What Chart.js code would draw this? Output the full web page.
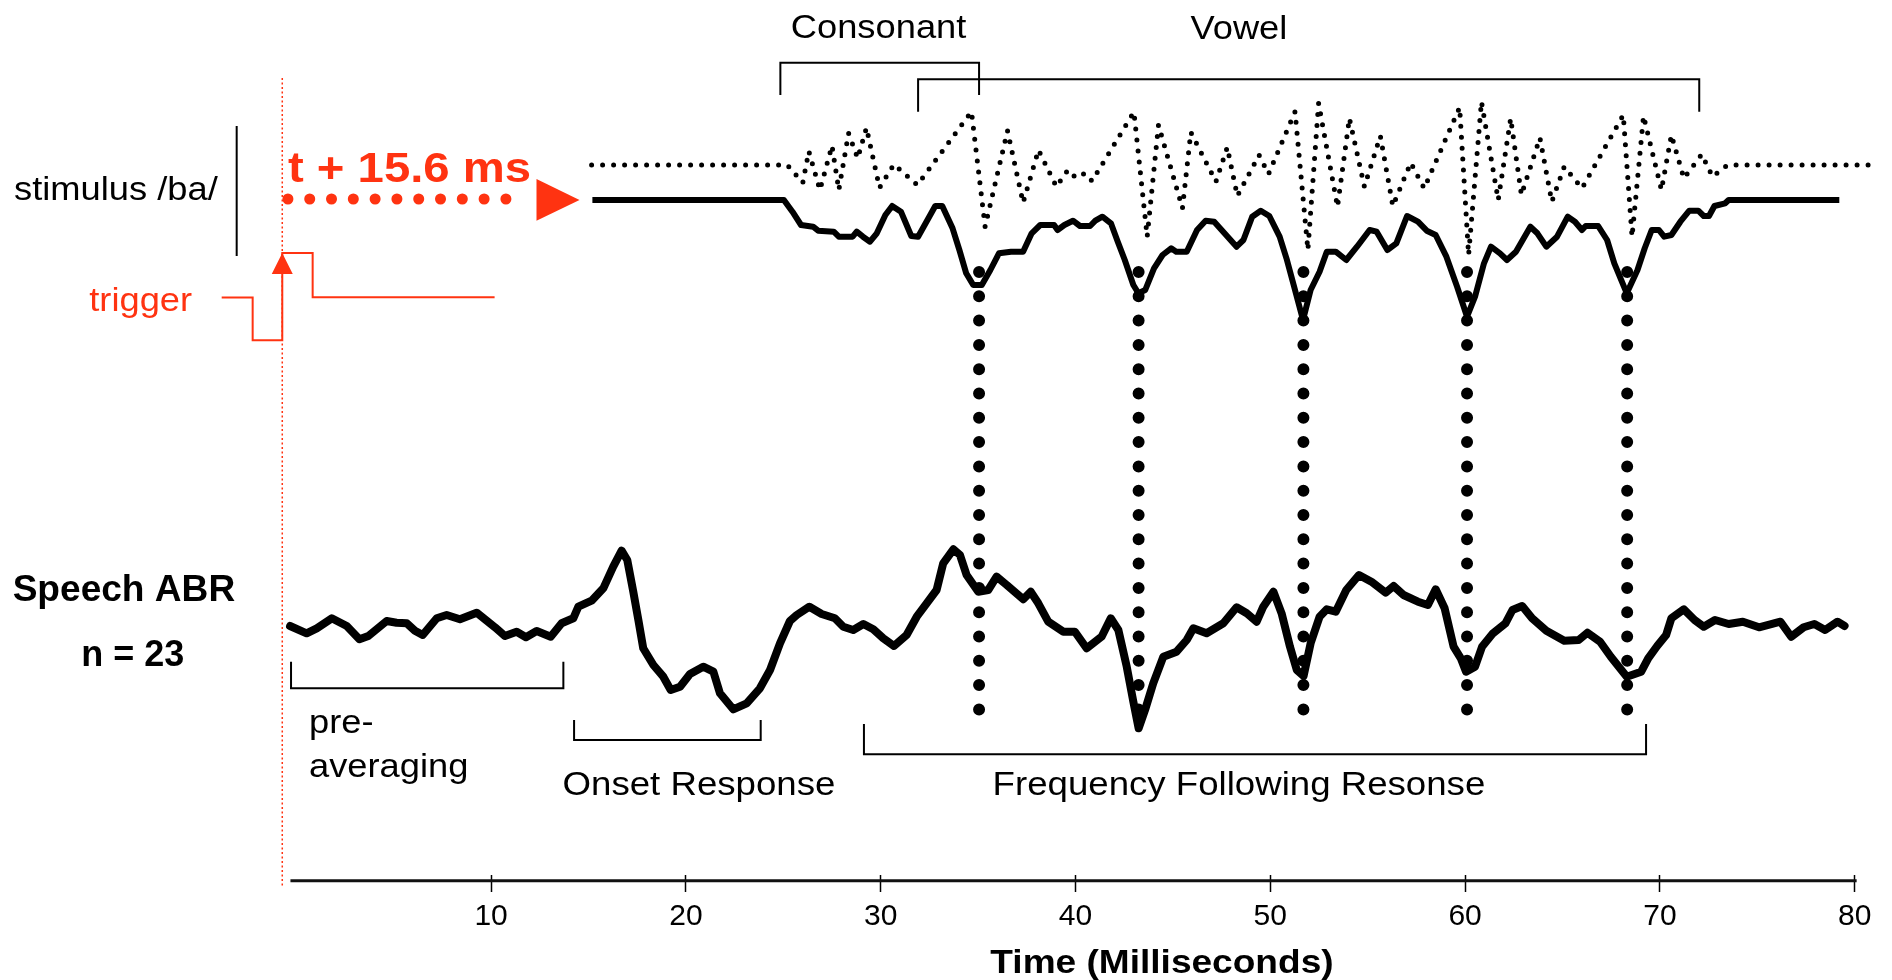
<!DOCTYPE html>
<html>
<head>
<meta charset="utf-8">
<title>Speech ABR to /ba/</title>
<script src="https://cdn.jsdelivr.net/npm/chart.js@4.4.1/dist/chart.umd.min.js"></script>
<style>
  html, body { margin: 0; padding: 0; background: #fff; }
  #wrap { width: 1892px; height: 980px; }
</style>
</head>
<body>
<div id="wrap"><canvas id="abrChart"></canvas></div>
<script>
// time ticks (ms)
const TICKS = [10, 20, 30, 40, 50, 60, 70, 80];

// grand average speech ABR, n = 23 (time in ms, amplitude in arbitrary units)
const ABR_MS = [-0.32, 0.53, 1.05, 1.82, 2.59, 3.24, 3.70, 4.64, 5.15, 5.67, 6.09, 6.49, 7.21, 7.72, 8.40, 9.26, 9.77, 10.2, 10.71, 11.31,
  11.79, 12.34, 13.06, 13.62, 14.22, 14.48, 15.16, 15.76, 16.27, 16.70, 16.99, 17.3, 17.56, 17.81, 18.33, 18.84, 19.22, 19.7, 20.21, 20.89,
  21.41, 21.75, 22.43, 23.12, 23.80, 24.32, 24.83, 25.34, 25.69, 26.34, 26.97, 27.65, 28.08, 28.59, 29.11, 29.62, 30.13, 30.68, 31.33, 31.85,
  32.36, 32.87, 33.21, 33.73, 34.07, 34.41, 35.01, 35.52, 35.95, 36.47, 37.32, 37.70, 38.09, 38.60, 39.37, 39.97, 40.57, 41.34, 41.81, 42.2,
  42.63, 42.97, 43.24, 43.57, 43.99, 44.51, 45.19, 45.71, 46.05, 46.73, 47.59, 48.27, 48.79, 49.3, 49.64, 50.16, 50.58, 51.01, 51.36, 51.71,
  52.07, 52.53, 52.9, 53.36, 53.9, 54.55, 55.19, 55.92, 56.33, 56.84, 57.58, 58.09, 58.49, 58.95, 59.41, 59.78, 60.05, 60.51, 60.87, 61.43,
  62.07, 62.43, 62.93, 63.44, 64.17, 65.09, 65.83, 66.28, 66.93, 67.48, 68.3, 69.04, 69.40, 69.86, 70.32, 70.59, 71.23, 71.78, 72.25, 72.83,
  73.53, 74.26, 75.09, 76.19, 76.74, 77.38, 77.93, 78.48, 79.12, 79.48];
const ABR_AMP = [-0.1, -0.83, -0.33, 0.67, -0.1, -1.43, -1.1, 0.4, 0.23, 0.17, -0.57, -1.0, 0.67, 1.0, 0.57, 1.23, 0.43, -0.23, -1.1, -0.67,
  -1.23, -0.6, -1.17, 0.17, 0.67, 1.83, 2.43, 3.67, 5.83, 7.43, 6.5, 3.33, 0.5, -2.33, -4.0, -5.17, -6.5, -6.17, -4.9, -4.17,
  -4.67, -6.83, -8.43, -7.83, -6.33, -4.5, -1.83, 0.4, 1.0, 1.83, 1.1, 0.67, -0.17, -0.5, 0.1, -0.43, -1.33, -2.1, -1.0, 0.83,
  2.17, 3.5, 6.17, 7.57, 7.0, 5.0, 3.33, 3.5, 4.83, 4.0, 2.57, 3.33, 2.17, 0.33, -0.67, -0.67, -2.33, -1.17, 0.67, -0.5,
  -4.17, -7.67, -10.33, -8.5, -5.83, -3.17, -2.67, -1.5, -0.33, -0.83, 0.17, 1.77, 1.17, 0.33, 1.83, 3.33, 1.17, -2.17, -4.5, -5.1,
  -1.83, 0.83, 1.57, 1.33, 3.5, 5.0, 4.33, 3.23, 3.9, 3.0, 2.33, 2.0, 3.57, 1.67, -2.17, -3.33, -4.67, -4.17, -2.17, -0.83,
  0.17, 1.5, 1.9, 0.67, -0.57, -1.57, -1.5, -0.77, -1.67, -3.17, -5.17, -4.67, -3.33, -2.1, -1.0, 0.67, 1.57, 0.5, -0.17, 0.5,
  0.1, 0.33, -0.23, 0.33, -1.17, -0.23, 0.1, -0.5, 0.33, -0.1];

// stimulus /ba/ envelope-like trace (solid), shifted by the 15.6 ms delay
const STIM_MS = [15.2, 25.03, 25.47, 25.91, 26.53, 26.79, 27.59, 27.85, 28.56, 28.77, 29.09, 29.45, 29.8, 30.24, 30.59, 31.04, 31.57, 31.92,
  32.45, 32.8, 33.16, 33.69, 34.04, 34.39, 34.75, 35.19, 35.63, 36.07, 36.69, 37.31, 37.75, 38.19, 38.9, 39.08, 39.43, 39.87, 40.23, 40.75,
  41.02, 41.38, 41.82, 42.17, 42.53, 42.97, 43.23, 43.58, 44.03, 44.47, 44.91, 45.17, 45.71, 46.24, 46.68, 47.12, 47.65, 48.27, 48.62, 49.07,
  49.51, 49.95, 50.48, 50.83, 51.2, 51.68, 52.07, 52.53, 52.9, 53.36, 53.9, 54.45, 55.1, 55.46, 56.01, 56.47, 57.02, 57.58, 58.03, 58.49,
  59.04, 59.59, 60.1, 60.51, 60.97, 61.33, 61.79, 62.15, 62.61, 63.35, 63.71, 64.17, 64.72, 65.27, 65.64, 66.0, 66.19, 66.83, 67.29, 67.66,
  68.3, 68.85, 69.22, 69.58, 69.95, 70.22, 70.59, 71.05, 71.51, 71.97, 72.25, 72.52, 72.8, 73.35, 73.53, 79.21];
const STIM_AMP = [0, 0, -1.17, -2.5, -2.67, -3.07, -3.17, -3.67, -3.67, -3.17, -3.67, -4.17, -3.33, -1.5, -0.6, -1.17, -3.6, -3.67,
  -1.83, -0.6, -0.6, -2.83, -5.0, -7.33, -8.5, -8.5, -7.0, -5.33, -5.17, -5.17, -3.33, -2.5, -2.5, -3.0, -2.5, -2.07, -2.6, -2.6,
  -2.07, -1.67, -2.33, -4.17, -6.0, -8.5, -9.33, -9.0, -6.83, -5.5, -4.83, -5.17, -5.17, -3.0, -2.07, -2.17, -3.33, -4.67, -4.0, -1.67,
  -1.07, -1.6, -3.67, -5.83, -8.5, -12.0, -9.0, -7.17, -5.17, -5.17, -6.0, -4.67, -3.0, -3.17, -5.0, -4.33, -1.6, -2.17, -3.07, -3.5,
  -5.67, -8.67, -11.67, -9.67, -6.33, -4.67, -5.33, -6.0, -5.17, -2.67, -3.33, -4.67, -3.67, -1.67, -2.17, -3.0, -2.6, -2.6, -4.0, -6.33,
  -9.33, -7.0, -4.83, -3.0, -3.0, -3.67, -3.5, -2.17, -1.07, -1.07, -1.6, -1.6, -0.6, -0.33, 0, 0];

// stimulus /ba/ waveform (dotted)
const WAVE_MS = [15.16, 25.2, 26.0, 26.31, 26.88, 27.5, 27.85, 28.35, 28.82, 29.27, 29.94, 30.68, 31.88, 34.66, 35.36, 36.51, 37.31, 38.1,
  39.02, 39.61, 40.02, 40.49, 40.85, 43.0, 43.68, 44.26, 45.49, 45.92, 47.21, 47.79, 48.31, 49.42, 49.91, 51.27, 51.93, 52.48, 53.45, 54.06,
  54.83, 55.65, 56.29, 57.21, 57.9, 59.72, 60.18, 60.84, 61.7, 62.34, 62.89, 63.84, 64.45, 65.09, 66.0, 68.12, 68.57, 69.16, 70.08, 70.59,
  71.23, 72.15, 72.7, 73.47, 81.15];
const WAVE_AMP = [0, 0, -1.77, 1.37, -2.5, 1.93, -2.5, 3.17, 0.67, 3.73, -2.27, 0.07, -2.0, 5.33, -6.17, 3.43, -3.77, 1.5,
  -2.17, -0.5, -1.27, -0.83, -1.6, 5.3, -7.17, 4.0, -4.33, 3.27, -1.67, 1.77, -3.1, 1.0, -0.9, 5.33, -8.5, 6.17, -4.17, 4.67,
  -2.17, 2.9, -4.1, 0.23, -2.33, 5.77, -9.0, 6.33, -3.5, 4.67, -3.0, 2.73, -3.67, -0.17, -2.33, 5.0, -7.17, 4.9, -2.5, 3.0,
  -1.33, 1.07, -1.17, 0, 0];

// latencies linking stimulus troughs to response troughs (ms)
const PEAK_LATENCY_MS = [35.05, 43.24, 51.7, 60.1, 68.32];

// time windows (ms)
const CONSONANT_MS = [24.85, 35.05];
const VOWEL_MS = [31.92, 72.02];
const PREAVG_MS = [-0.27, 13.71];
const ONSET_MS = [14.26, 23.84];
const FFR_MS = [29.14, 69.29];

// trigger pulse edges (ms) and stimulus delay arrow (ms)
const TRIGGER_EDGES_MS = [-3.83, -2.24, -0.72, 0.84, 10.18];
const DELAY_ARROW_MS = [-0.43, 11.88];
const AXIS_MS = [-0.3, 80.1];

const RED = '#ff3311';
const ABR_BASE = 0, STIM_BASE = 42.5, WAVE_BASE = 46.0;

const toPoints = (xs, ys, base) => xs.map((t, i) => ({ x: t, y: ys[i] + base }));
const lineSet = (data, extra) => Object.assign({ data: data, borderColor: '#000', borderWidth: 2, pointRadius: 0, clip: false }, extra);
const bracket = (span, top, bottom) => lineSet([
  { x: span[0], y: bottom }, { x: span[0], y: top }, { x: span[1], y: top }, { x: span[1], y: bottom }]);

const datasets = [
  lineSet(toPoints(ABR_MS, ABR_AMP, ABR_BASE), { borderWidth: 8, borderJoinStyle: 'round', borderCapStyle: 'round' }),
  lineSet(toPoints(STIM_MS, STIM_AMP, STIM_BASE), { borderWidth: 6, borderJoinStyle: 'round' }),
  lineSet(toPoints(WAVE_MS, WAVE_AMP, WAVE_BASE), { borderWidth: 5, borderDash: [0, 11], borderCapStyle: 'round', borderJoinStyle: 'round' })
];
PEAK_LATENCY_MS.forEach(t => {
  datasets.push(lineSet([{ x: t, y: 35.3 }, { x: t, y: -8.6 }], { borderWidth: 12, borderDash: [0, 24.3], borderCapStyle: 'round' }));
});
datasets.push(
  // consonant / vowel brackets
  bracket(CONSONANT_MS, 56.23, 53.0),
  bracket(VOWEL_MS, 54.57, 51.33),
  // response window brackets (open upwards)
  bracket(PREAVG_MS, -6.33, -3.67),
  bracket(ONSET_MS, -11.5, -9.5),
  bracket(FFR_MS, -12.93, -9.9),
  // stimulus bar
  lineSet([{ x: -3.06, y: 49.9 }, { x: -3.06, y: 36.9 }]),
  // time axis line
  lineSet([{ x: AXIS_MS[0], y: -25.57 }, { x: AXIS_MS[1], y: -25.57 }], { borderWidth: 3, borderColor: '#111' }),
  // trigger pulse
  lineSet([
    { x: TRIGGER_EDGES_MS[0], y: 32.75 }, { x: TRIGGER_EDGES_MS[1], y: 32.75 }, { x: TRIGGER_EDGES_MS[1], y: 28.47 },
    { x: TRIGGER_EDGES_MS[2], y: 28.47 }, { x: TRIGGER_EDGES_MS[2], y: 37.2 }, { x: TRIGGER_EDGES_MS[3], y: 37.2 },
    { x: TRIGGER_EDGES_MS[3], y: 32.77 }, { x: TRIGGER_EDGES_MS[4], y: 32.77 }], { borderColor: RED, borderWidth: 2 }),
  // trigger time marker
  lineSet([{ x: TRIGGER_EDGES_MS[2], y: 54.7 }, { x: TRIGGER_EDGES_MS[2], y: -26.3 }], { borderColor: RED, borderWidth: 1.5, borderDash: [2, 2.5] }),
  // delay arrow shaft
  lineSet([{ x: DELAY_ARROW_MS[0], y: 42.6 }, { x: DELAY_ARROW_MS[1], y: 42.6 }], { borderColor: RED, borderWidth: 11, borderDash: [0, 21.8], borderCapStyle: 'round' })
);

function drawText(ctx, text, px, py, font, color, align, sx) {
  ctx.save();
  ctx.font = font;
  ctx.fillStyle = color;
  ctx.textAlign = align;
  ctx.textBaseline = 'alphabetic';
  ctx.translate(px, py);
  ctx.scale(sx, 1);
  ctx.fillText(text, 0, 0);
  ctx.restore();
}

function fillTri(ctx, pts) {
  ctx.beginPath();
  ctx.moveTo(pts[0][0], pts[0][1]);
  ctx.lineTo(pts[1][0], pts[1][1]);
  ctx.lineTo(pts[2][0], pts[2][1]);
  ctx.closePath();
  ctx.fill();
}

// text labels and arrowheads
const annotations = {
  id: 'annotations',
  afterDatasetsDraw(chart) {
    const ctx = chart.ctx;
    const px = v => chart.scales.x.getPixelForValue(v);
    const py = v => chart.scales.y.getPixelForValue(v);
    const reg = '33px "Liberation Sans", Arial, sans-serif';
    const bold = sz => 'bold ' + sz + 'px "Liberation Sans", Arial, sans-serif';

    ctx.save();
    ctx.fillStyle = RED;
    fillTri(ctx, [[px(12.33), py(44.6)], [px(12.33), py(40.43)], [px(14.54), py(42.5)]]);
    const tx = px(TRIGGER_EDGES_MS[2]);
    fillTri(ctx, [[tx - 10.5, py(35.1)], [tx + 10.5, py(35.1)], [tx, py(37.2)]]);
    ctx.restore();

    drawText(ctx, 'Consonant', px(29.89), py(58.75), reg, '#000', 'center', 1.1);
    drawText(ctx, 'Vowel', px(48.39), py(58.57), reg, '#000', 'center', 1.1);
    drawText(ctx, 'stimulus /ba/', px(-14.49), py(42.47), reg, '#000', 'left', 1.1);
    drawText(ctx, 'trigger', px(-10.63), py(31.37), reg, RED, 'left', 1.1);
    drawText(ctx, 't + 15.6 ms', px(-0.43), py(44.33), bold(43), RED, 'left', 1.1);
    drawText(ctx, 'Speech ABR', px(-8.85), py(2.44), bold(36), '#000', 'center', 1.03);
    drawText(ctx, 'n = 23', px(-8.39), py(-4.14), bold(36), '#000', 'center', 1.0);
    drawText(ctx, 'pre-', px(0.65), py(-10.83), reg, '#000', 'left', 1.1);
    drawText(ctx, 'averaging', px(0.65), py(-15.17), reg, '#000', 'left', 1.1);
    drawText(ctx, 'Onset Response', px(20.67), py(-17.0), reg, '#000', 'center', 1.11);
    drawText(ctx, 'Frequency Following Resonse', px(48.39), py(-17.0), reg, '#000', 'center', 1.11);
    drawText(ctx, 'Time (Milliseconds)', px(44.44), py(-34.8), bold(34), '#000', 'center', 1.09);
  }
};

new Chart(document.getElementById('abrChart'), {
  type: 'line',
  data: { datasets: datasets },
  options: {
    responsive: true,
    maintainAspectRatio: false,
    animation: false,
    events: [],
    layout: { padding: 0 },
    elements: { line: { tension: 0 }, point: { radius: 0 } },
    plugins: { legend: { display: false }, tooltip: { enabled: false } },
    scales: {
      x: {
        type: 'linear',
        min: -15.21,
        max: 81.915,
        afterBuildTicks: function (axis) {
          axis.ticks = TICKS.map(v => ({ value: v }));
        },
        afterFit: function (axis) {
          axis.height = 105;
        },
        border: { display: false },
        grid: { drawOnChartArea: false, drawTicks: true, tickLength: 17, tickColor: '#000', tickWidth: 1.5 },
        ticks: {
          color: '#000',
          font: { family: '"Liberation Sans", Arial, sans-serif', size: 30 },
          padding: 7,
          autoSkip: false,
          maxRotation: 0
        }
      },
      y: { display: false, min: -25, max: 62.5 }
    }
  },
  plugins: [annotations]
});
</script>
</body>
</html>
